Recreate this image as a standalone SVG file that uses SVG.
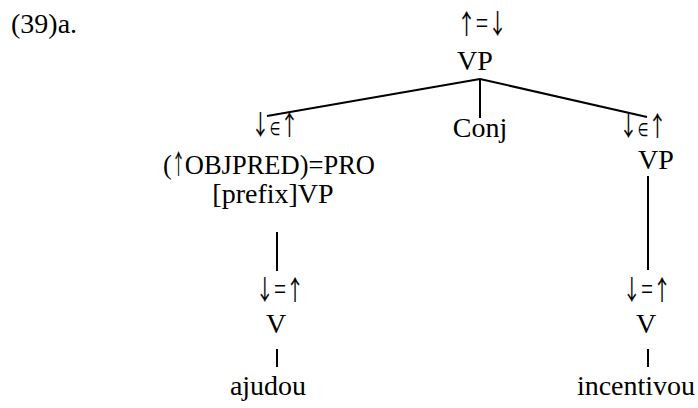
<svg xmlns="http://www.w3.org/2000/svg" width="698" height="408" viewBox="0 0 698 408">
<style>
text{font-family:"Liberation Serif","Times New Roman",serif;font-size:28px;fill:#000;text-anchor:middle}
.l{text-anchor:start}
.a{font-family:"Noto Sans CJK SC","DejaVu Sans",sans-serif;font-weight:400;font-size:27px;stroke:#000;stroke-width:0.15}
.q{font-size:32px}
.e{font-family:"DejaVu Sans",sans-serif;font-size:18px}
.s{font-size:26.5px}
line{stroke:#000;stroke-width:2}
</style>
<rect width="698" height="408" fill="#fff"/>
<text class="l" x="11" y="33" font-size="29.5">(39)a.</text>
<g id="connectors">
<line x1="480" y1="79" x2="267" y2="116"/>
<line x1="480" y1="79" x2="647" y2="117"/>
<line x1="480" y1="80" x2="480" y2="118"/>
<line x1="277" y1="232" x2="277" y2="271"/>
<line x1="277" y1="349" x2="277" y2="367"/>
<line x1="648" y1="176" x2="648" y2="270"/>
<line x1="648" y1="349" x2="648" y2="367"/>
</g>
<g id="root"><text transform="translate(482,34) scale(0.69,1)"><tspan class="a">↑</tspan><tspan class="q">=</tspan><tspan class="a">↓</tspan></text><text x="475" y="70">VP</text></g>
<g id="conj"><text x="480" y="137">Conj</text></g>
<g id="left-vp"><text transform="translate(275,135) scale(0.68,1)"><tspan class="a">↓</tspan><tspan class="e">∈</tspan><tspan class="a">↑</tspan></text><text class="s l" x="163" y="174">(</text><text class="a l" transform="translate(171.8,174) scale(0.5,1)" font-size="26.5">↑</text><text class="s l" x="184.8" y="174">OBJPRED)=PRO</text><text x="273" y="203">[prefix]VP</text></g>
<g id="left-v"><text transform="translate(280,300) scale(0.67,1)"><tspan class="a">↓</tspan><tspan class="q">=</tspan><tspan class="a">↑</tspan></text><text x="276" y="333">V</text></g>
<g id="ajudou"><text x="268" y="395">ajudou</text></g>
<g id="right-vp"><text transform="translate(643,136) scale(0.68,1)"><tspan class="a">↓</tspan><tspan class="e">∈</tspan><tspan class="a">↑</tspan></text><text x="656" y="169">VP</text></g>
<g id="right-v"><text transform="translate(647,300) scale(0.67,1)"><tspan class="a">↓</tspan><tspan class="q">=</tspan><tspan class="a">↑</tspan></text><text x="646" y="333">V</text></g>
<g id="incentivou"><text x="636" y="395">incentivou</text></g>
</svg>
